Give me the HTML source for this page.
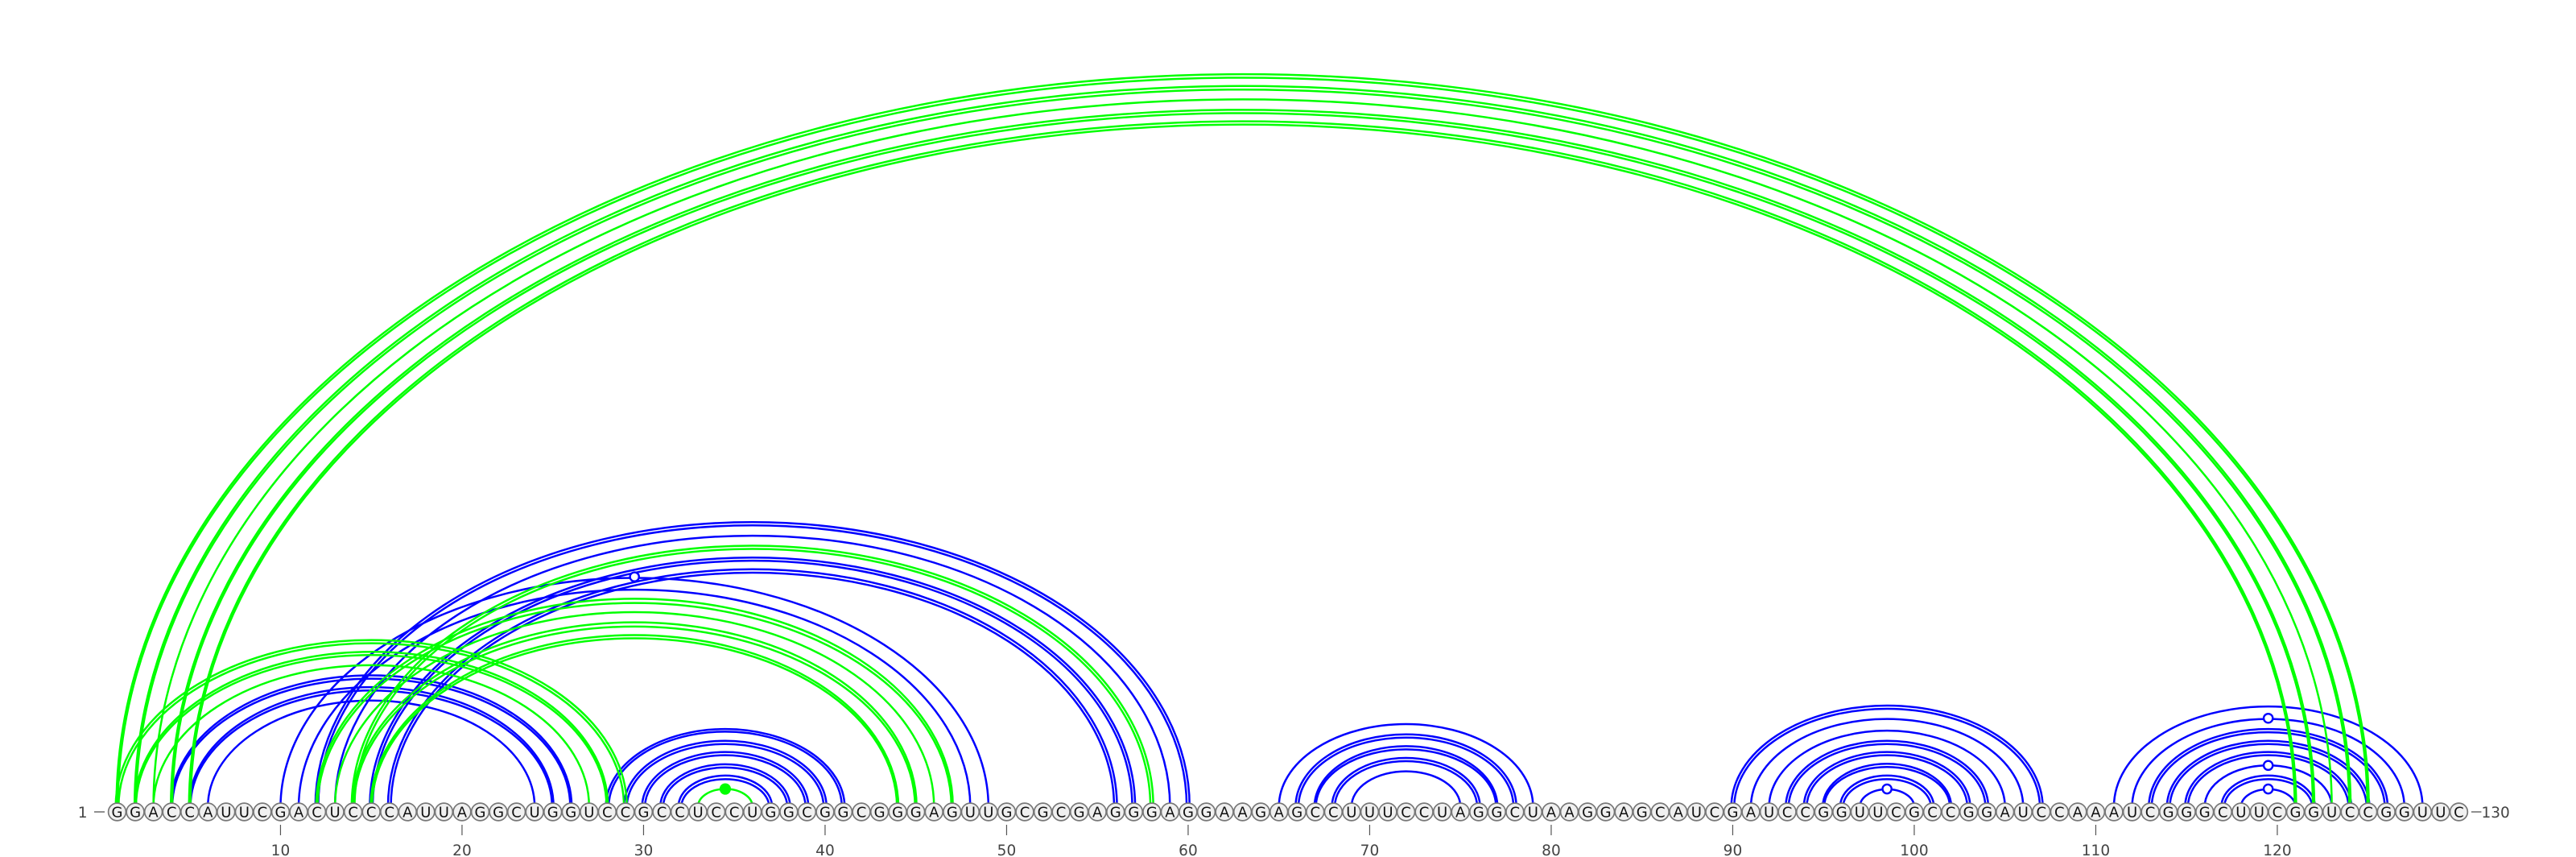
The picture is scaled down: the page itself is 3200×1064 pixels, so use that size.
<!DOCTYPE html>
<html lang="en">
<head>
<meta charset="utf-8">
<title>RNA secondary structure arc diagram</title>
<style>
  html, body { margin: 0; padding: 0; background: #fff; }
  body { width: 3200px; height: 1064px; overflow: hidden; }
  svg { display: block; }
  text { font-family: "DejaVu Sans", "Liberation Sans", sans-serif; }
</style>
</head>
<body>
<svg id="chart" xmlns="http://www.w3.org/2000/svg" width="3200" height="1064" viewBox="0 0 3200 1064">
  <rect x="0" y="0" width="3200" height="1064" fill="#ffffff"></rect>
  <g id="blue-arcs"></g>
  <g id="green-arcs"></g>
  <g id="markers"></g>
  <g id="bases"></g>
  <g id="axis"></g>
</svg>
<script>
const sequence = "GGACCAUUCGACUCCCAUUAGGCUGGUCCGCCUCCUGGCGGCGGGAGUUGCGCGAGGGAGGAAGAGCCUUUCCUAGGCUAAGGAGCAUCGAUCCGGUUCGCCGGAUCCAAAUCGGGCUUCGGUCCGGUUC";
const tickPositions = [10, 20, 30, 40, 50, 60, 70, 80, 90, 100, 110, 120];
const tickLabels = ["10", "20", "30", "40", "50", "60", "70", "80", "90", "100", "110", "120"];
const firstPosition = 1;
const lastPosition = 130;

// [start position, end position, kind: 1 single arc, 2 double arc, 3 double arc merging at the feet]
const bluePairs = [
  [4, 26, 3], [5, 25, 3], [6, 24, 1],
  [10, 49, 1], [11, 48, 1],
  [12, 60, 2], [13, 59, 1], [15, 57, 2], [16, 56, 2],
  [28, 41, 2], [29, 40, 2], [30, 39, 2], [31, 38, 2], [32, 37, 2],
  [65, 79, 1], [66, 78, 2], [67, 77, 3], [68, 76, 2], [69, 75, 1],
  [90, 107, 2], [91, 106, 1], [92, 105, 1], [93, 104, 2], [94, 103, 2], [95, 102, 3], [96, 101, 2], [97, 100, 1],
  [111, 128, 1], [112, 127, 1], [113, 126, 2], [114, 125, 2], [115, 124, 2], [116, 123, 1], [117, 122, 2], [118, 121, 1]
];
const greenPairs = [
  [1, 125, 3], [2, 124, 3], [3, 123, 1], [4, 122, 3], [5, 121, 3],
  [1, 29, 2], [2, 28, 3], [3, 27, 1],
  [12, 47, 3], [13, 46, 1], [14, 45, 3], [15, 44, 3],
  [14, 58, 2],
  [33, 36, 1]
];
const openMarkerPairs = [[10, 49], [97, 100], [112, 127], [116, 123], [118, 121]];
const filledMarkerPairs = [[33, 36]];

const SVG_NS = "http://www.w3.org/2000/svg";
const BLUE = "#0000ff";
const GREEN = "#00ff00";
const baseY = 1008;
const arcBaseY = 1001.5;
const archRatio = 0.649;

function xScale(position) {
  return 145.5 + (position - 1) * 22.55;
}
function arcRadiusX(start, end) {
  return Math.abs(xScale(end) - xScale(start)) / 2;
}
function arcCenterX(start, end) {
  return (xScale(start) + xScale(end)) / 2;
}
function arcTopY(start, end) {
  return arcBaseY - arcRadiusX(start, end) * archRatio;
}
function make(tag, attrs) {
  const el = document.createElementNS(SVG_NS, tag);
  for (const key in attrs) el.setAttribute(key, attrs[key]);
  return el;
}

function drawArc(parent, start, end, color, deltaX, deltaY, name) {
  const cx = arcCenterX(start, end);
  const rx = arcRadiusX(start, end) + deltaX;
  const ry = arcRadiusX(start, end) * archRatio + deltaY;
  const path = make("path", {
    d: "M" + (cx - rx).toFixed(2) + " " + arcBaseY + " A" + rx.toFixed(2) + " " + ry.toFixed(2) + " 0 0 1 " + (cx + rx).toFixed(2) + " " + arcBaseY,
    fill: "none",
    stroke: color,
    "stroke-width": 2.5
  });
  
  
  parent.appendChild(path);
}

function drawPairs(parent, pairs, color, prefix) {
  pairs.forEach(function (pair) {
    const name = prefix + "-arc-" + pair[0] + "-" + pair[1];
    if (pair[2] === 2) {
      drawArc(parent, pair[0], pair[1], color, 1.8, 2, name);
      drawArc(parent, pair[0], pair[1], color, -1.8, -2, name);
    } else if (pair[2] === 3) {
      drawArc(parent, pair[0], pair[1], color, 0.9, 2, name);
      drawArc(parent, pair[0], pair[1], color, -0.9, -2, name);
    } else {
      drawArc(parent, pair[0], pair[1], color, 0, 0, name);
    }
  });
}
drawPairs(document.getElementById("blue-arcs"), bluePairs, BLUE, "blue");
drawPairs(document.getElementById("green-arcs"), greenPairs, GREEN, "green");

const markerLayer = document.getElementById("markers");
openMarkerPairs.forEach(function (pair) {
  const m = make("circle", {
    cx: arcCenterX(pair[0], pair[1]), cy: arcTopY(pair[0], pair[1]), r: 5.6,
    fill: "#ffffff", stroke: BLUE, "stroke-width": 2.4
  });
  
  
  markerLayer.appendChild(m);
});
filledMarkerPairs.forEach(function (pair) {
  const m = make("circle", {
    cx: arcCenterX(pair[0], pair[1]), cy: arcTopY(pair[0], pair[1]), r: 6.6,
    fill: GREEN, stroke: GREEN, "stroke-width": 1
  });
  
  
  markerLayer.appendChild(m);
});

const baseLayer = document.getElementById("bases");
sequence.split("").forEach(function (letter, index) {
  const position = index + 1;
  const node = make("circle", {
    cx: xScale(position), cy: baseY, r: 10.9,
    fill: "#f0f0f0", stroke: "#777777", "stroke-width": 1.7
  });
  
  
  baseLayer.appendChild(node);
  const label = make("text", {
    x: xScale(position), y: baseY + 6.6, "text-anchor": "middle",
    "font-size": 18, fill: "#111111"
  });
  label.textContent = letter;
  
  
  baseLayer.appendChild(label);
});

const axisLayer = document.getElementById("axis");
tickPositions.forEach(function (position, index) {
  const tick = make("line", {
    x1: xScale(position), x2: xScale(position), y1: 1024, y2: 1037,
    stroke: "#555555", "stroke-width": 1.2
  });
  
  
  axisLayer.appendChild(tick);
  const label = make("text", {
    x: xScale(position), y: 1062, "text-anchor": "middle",
    "font-size": 18.5, fill: "#444444"
  });
  label.textContent = tickLabels[index];
  
  
  axisLayer.appendChild(label);
});

const startDash = make("line", {
  x1: xScale(firstPosition) - 28.5, x2: xScale(firstPosition) - 15.5, y1: baseY, y2: baseY,
  stroke: "#555555", "stroke-width": 1.3
});


axisLayer.appendChild(startDash);
const startLabel = make("text", {
  x: xScale(firstPosition) - 37, y: baseY + 7, "text-anchor": "end",
  "font-size": 18.5, fill: "#444444"
});
startLabel.textContent = String(firstPosition);


axisLayer.appendChild(startLabel);
const endDash = make("line", {
  x1: xScale(lastPosition) + 15.5, x2: xScale(lastPosition) + 28, y1: baseY, y2: baseY,
  stroke: "#555555", "stroke-width": 1.3
});


axisLayer.appendChild(endDash);
const endLabel = make("text", {
  x: xScale(lastPosition) + 28, y: baseY + 7, "text-anchor": "start",
  "font-size": 18.5, fill: "#444444"
});
endLabel.textContent = String(lastPosition);


axisLayer.appendChild(endLabel);
</script>
</body>
</html>
